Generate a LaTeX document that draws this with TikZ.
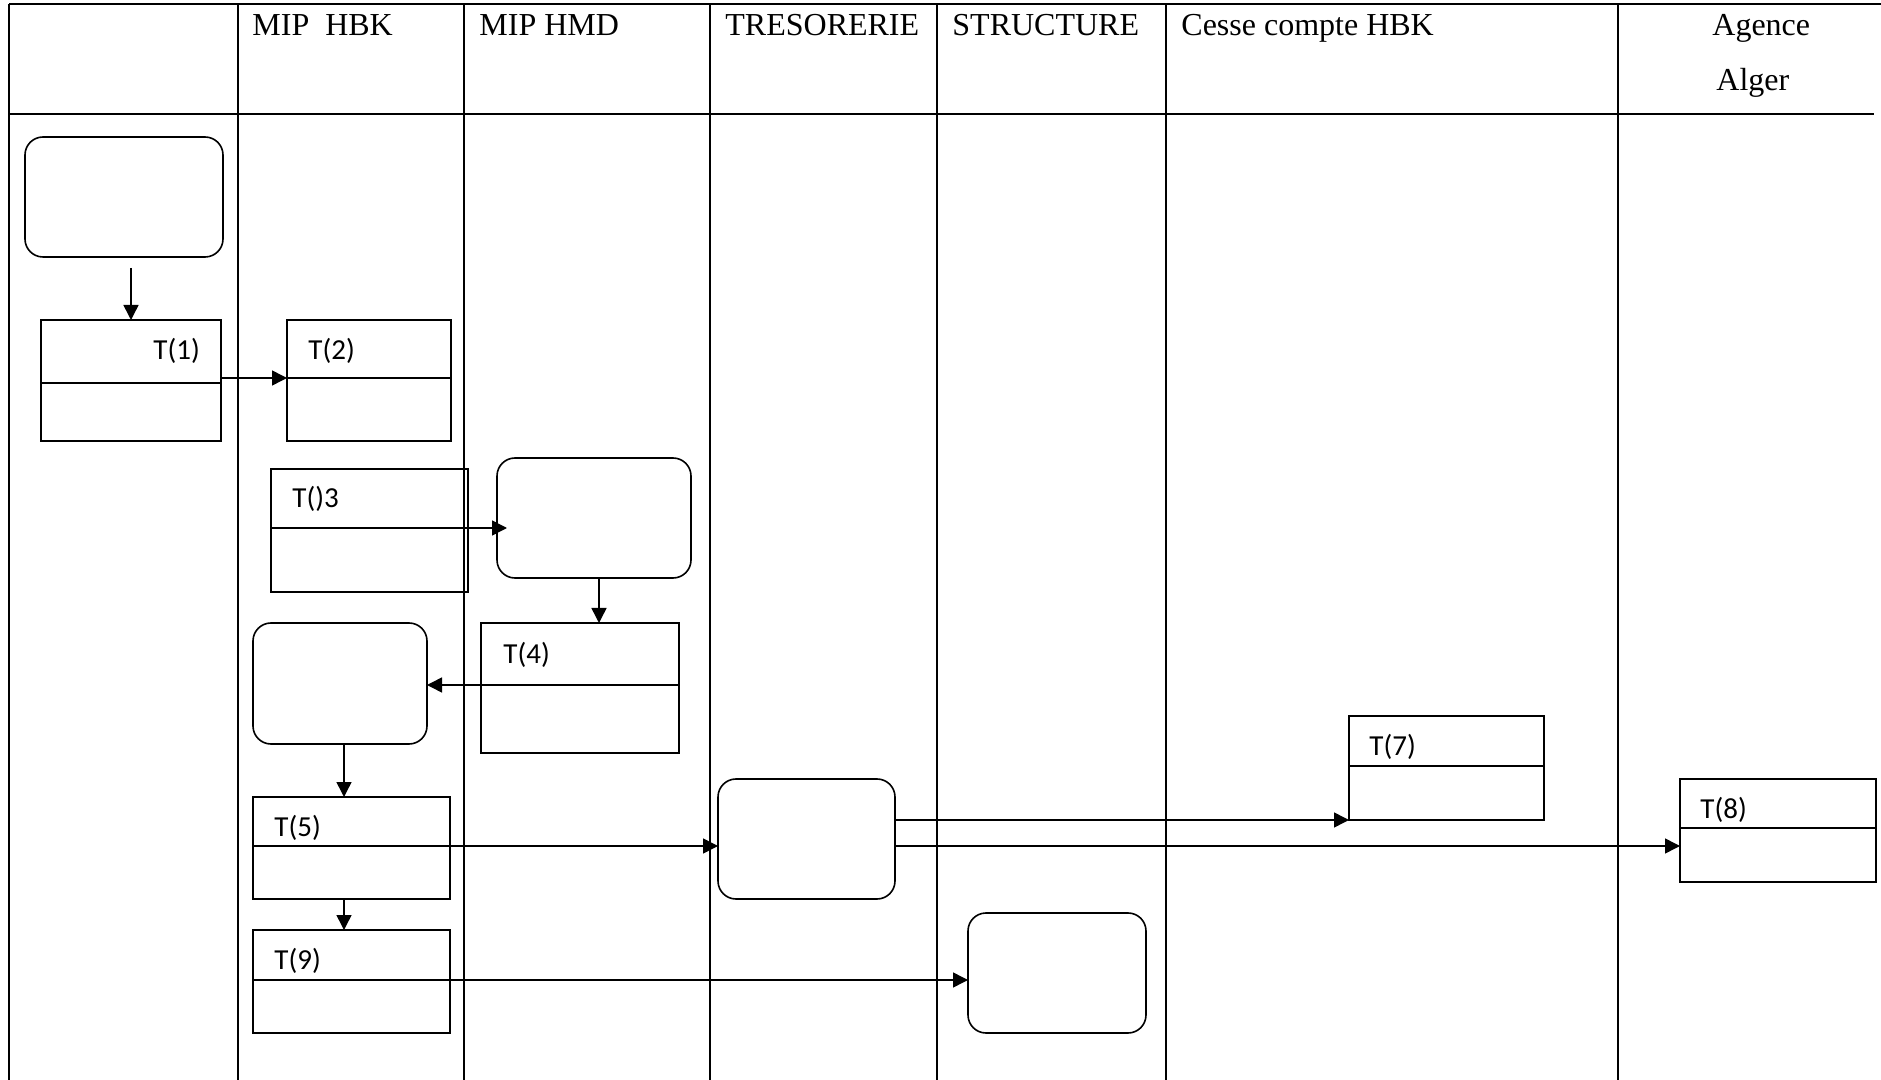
\documentclass[tikz,border=0pt]{standalone}
\usepackage{fontspec}
\setmainfont{Liberation Serif}
\newfontfamily\lblfont{Carlito}
\usetikzlibrary{arrows.meta}
\begin{document}
\begin{tikzpicture}[x=0.5pt,y=-0.5pt,
  gridline/.style={line width=0.9pt},
  tbox/.style={draw, line width=0.8pt, rectangle, inner sep=0pt, outer sep=0pt, anchor=north west},
  rbox/.style={tbox, rounded corners=9pt, line width=0.8pt},
  divline/.style={line width=0.75pt},
  arr/.style={line width=0.75pt, -{Triangle[length=7.5pt,width=7.5pt]}},
  head/.style={font=\fontsize{16}{19}\selectfont, inner sep=0pt, anchor=base west},
  lbl/.style={font=\lblfont\fontsize{14.5}{17}\selectfont, inner sep=0pt, anchor=base west}]
\useasboundingbox (0,0) rectangle (1881,1080);

% table grid
\draw[gridline] (9,4) -- (1881,4);
\draw[gridline] (9,4) -- (9,1080);
\foreach \x in {238,464,710,937,1166,1618} \draw[gridline] (\x,4) -- (\x,1080);
\draw[line width=1.3pt] (9,114) -- (1874,114);

% headers
\node[head] (h1) at (252,36) {MIP~~HBK};
\node[head] (h2) at (479,36) {MIP HMD};
\node[head] (h3) at (725,36) {TRESORERIE};
\node[head] (h4) at (952,36) {STRUCTURE};
\node[head] (h5) at (1181,36) {Cesse compte HBK};
\node[head] (h6) at (1712,36) {Agence};
\node[head] (h7) at (1716,91) {Alger};

% rounded boxes
\node[rbox, minimum width=99pt, minimum height=60pt] (A) at (25,137) {};
\node[rbox, minimum width=97pt, minimum height=60pt] (B) at (497,458) {};
\node[rbox, minimum width=87pt, minimum height=60.5pt] (C) at (253,623) {};
\node[rbox, minimum width=88.5pt, minimum height=60pt] (D) at (718,779) {};
\node[rbox, minimum width=89pt, minimum height=60pt] (E) at (968,913) {};

% task boxes
\node[tbox, minimum width=90pt, minimum height=60.5pt] (T1) at (41,320) {};
\node[tbox, minimum width=82pt, minimum height=60.5pt] (T2) at (287,320) {};
\node[tbox, minimum width=98.5pt, minimum height=61.5pt] (T3) at (271,469) {};
\node[tbox, minimum width=99pt, minimum height=65pt] (T4) at (481,623) {};
\node[tbox, minimum width=98.5pt, minimum height=51pt] (T5) at (253,797) {};
\node[tbox, minimum width=98.5pt, minimum height=51.5pt] (T9) at (253,930) {};
\node[tbox, minimum width=97.5pt, minimum height=52pt] (T7) at (1349,716) {};
\node[tbox, minimum width=98pt, minimum height=51.5pt] (T8) at (1680,779) {};

% dividers
\foreach \n/\d in {T1/31.5,T2/29,T3/29.5,T4/31,T5/24.5,T9/25,T7/25,T8/24.5}{
  \coordinate (\n dl) at ([yshift=-\d pt]\n.north west);
  \coordinate (\n dr) at ([yshift=-\d pt]\n.north east);
  \draw[divline] (\n dl) -- (\n dr);
}

% labels
\node[lbl] (L1) at ([xshift=56pt,yshift=-20pt]T1.north west) {T(1)};
\node[lbl] (L2) at ([xshift=10.5pt,yshift=-20pt]T2.north west) {T(2)};
\node[lbl] (L3) at ([xshift=10.5pt,yshift=-19.5pt]T3.north west) {T()3};
\node[lbl] (L4) at ([xshift=11pt,yshift=-20pt]T4.north west) {T(4)};
\node[lbl] (L5) at ([xshift=10.5pt,yshift=-19.5pt]T5.north west) {T(5)};
\node[lbl] (L9) at ([xshift=10.5pt,yshift=-19.5pt]T9.north west) {T(9)};
\node[lbl] (L7) at ([xshift=10pt,yshift=-19.5pt]T7.north west) {T(7)};
\node[lbl] (L8) at ([xshift=10pt,yshift=-19.5pt]T8.north west) {T(8)};

% connectors
\coordinate (As) at ([yshift=-5.5pt]A.south);
\draw[arr] (As -| T1.north) -- (T1.north);
\draw[arr] (T1.east |- T2dl) -- (T2dl);
\draw[arr, shorten >=-5pt] (T3dr) -- (T3dr -| B.west);
\coordinate (Bs) at ([xshift=2.5pt]B.south);
\draw[arr] (Bs) -- (Bs |- T4.north);
\draw[arr] (T4dl) -- (T4dl -| C.east);
\coordinate (Cs) at ([xshift=2pt]C.south);
\draw[arr] (Cs) -- (Cs |- T5.north);
\draw[arr] (Cs |- T5.south) -- (Cs |- T9.north);
\draw[arr] (T5dr) -- (T5dr -| D.west);
\draw[arr] (D.east |- T7.south west) -- (T7.south west);
\draw[arr] (D.east |- T5dr) -- (T5dr -| T8.west);
\draw[arr] (T9dr) -- (T9dr -| E.west);
\end{tikzpicture}
\end{document}
